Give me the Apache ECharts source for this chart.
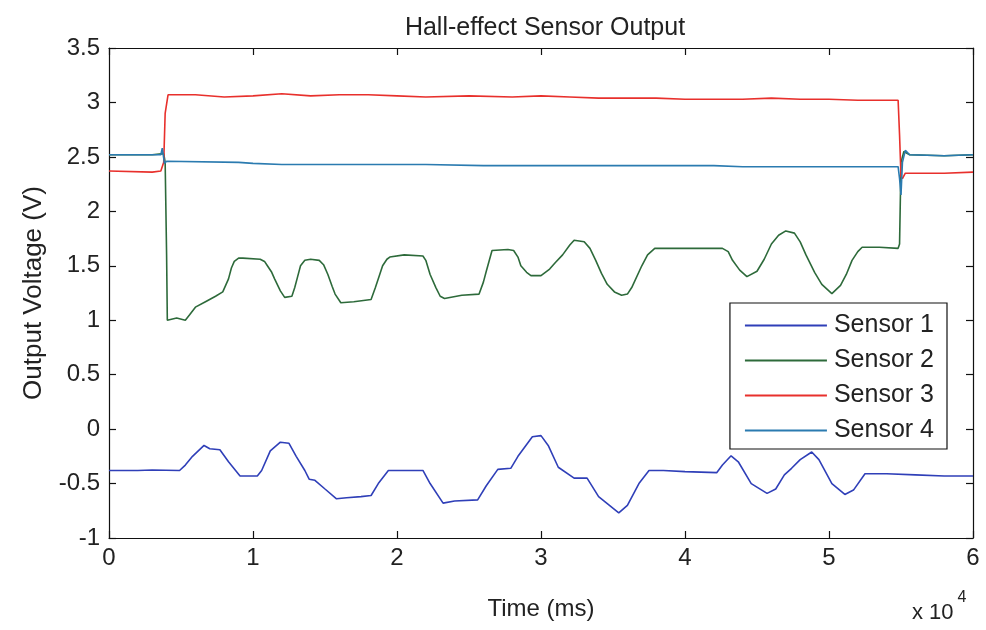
<!DOCTYPE html>
<html>
<head>
<meta charset="utf-8">
<script src="https://cdn.jsdelivr.net/npm/echarts@6/dist/echarts.min.js"></script>
<style>html,body{margin:0;padding:0;background:#fff;}#chart{width:986px;height:630px;}</style>
</head>
<body>
<div id="chart"></div>
<script>
// Time in ms, voltage in V
var s1Time = [0,2000,3000,4900,5300,5800,6600,7000,7700,8300,9100,10300,10600,11200,11900,12500,13000,13600,13900,14300,15000,15800,16500,17500,18200,18700,19400,20500,21800,22300,23200,24000,25600,26200,27000,27900,28400,29400,30000,30500,31200,32300,33200,34000,35400,36000,36800,37500,38500,40000,42200,42600,43200,43700,44600,45700,46300,46900,47400,48000,48800,49300,50200,51100,51700,52500,54000,56000,58000,60000];
var s1Volt = [-0.38,-0.38,-0.375,-0.38,-0.33,-0.25,-0.15,-0.18,-0.19,-0.3,-0.43,-0.43,-0.38,-0.2,-0.12,-0.13,-0.25,-0.38,-0.46,-0.47,-0.55,-0.64,-0.63,-0.62,-0.61,-0.5,-0.38,-0.38,-0.38,-0.5,-0.68,-0.66,-0.65,-0.52,-0.37,-0.36,-0.25,-0.07,-0.06,-0.15,-0.35,-0.45,-0.45,-0.62,-0.77,-0.7,-0.5,-0.38,-0.38,-0.39,-0.40,-0.33,-0.245,-0.3,-0.5,-0.59,-0.55,-0.42,-0.36,-0.28,-0.21,-0.28,-0.5,-0.60,-0.56,-0.41,-0.41,-0.42,-0.43,-0.43];

var s2Time = [0,3000,3800,3900,4000,4050,4700,5300,5600,6000,6700,7400,7900,8300,8500,8700,9000,9300,10500,10800,11000,11300,11500,11900,12200,12700,12900,13100,13300,13600,14000,14600,14900,15200,15500,15700,16100,17000,18200,18500,18800,19000,19300,19500,20500,21800,22000,22300,22700,23000,23300,24500,25700,26000,26200,26600,27700,28100,28400,28600,29000,29300,30000,30600,31000,31500,32000,32300,33000,33400,33800,34200,34600,35100,35600,36000,36300,37000,37400,37900,40000,42600,43000,43300,43800,44300,45000,45500,46000,46500,47000,47600,48000,48400,49000,49500,50200,50800,51200,51600,52000,52300,53500,54800,54900,55000,55200,55600,58000,60000];
var s2Volt = [2.52,2.52,2.53,2.45,1.6,1.0,1.02,1.0,1.05,1.12,1.17,1.22,1.26,1.38,1.48,1.54,1.57,1.57,1.56,1.54,1.5,1.44,1.38,1.27,1.21,1.22,1.3,1.4,1.5,1.55,1.56,1.55,1.51,1.42,1.31,1.24,1.16,1.17,1.19,1.3,1.42,1.5,1.56,1.58,1.60,1.59,1.55,1.42,1.3,1.22,1.20,1.23,1.24,1.35,1.45,1.64,1.65,1.64,1.58,1.5,1.44,1.41,1.41,1.47,1.53,1.6,1.69,1.735,1.72,1.66,1.55,1.43,1.33,1.26,1.23,1.24,1.3,1.5,1.6,1.66,1.66,1.66,1.63,1.55,1.46,1.40,1.45,1.56,1.7,1.78,1.82,1.8,1.72,1.6,1.44,1.33,1.245,1.32,1.42,1.55,1.63,1.67,1.67,1.66,1.7,2.45,2.55,2.52,2.51,2.52];

var s3Time = [0,3000,3600,3800,3900,4100,6000,8000,10000,12000,14000,16000,18000,20000,22000,25000,28000,30000,32000,34000,36000,38000,40000,42000,44000,46000,48000,50000,52000,54800,54900,55000,55100,55300,58000,60000];
var s3Volt = [2.37,2.36,2.37,2.45,2.9,3.07,3.07,3.05,3.06,3.08,3.06,3.07,3.07,3.06,3.05,3.06,3.05,3.06,3.05,3.04,3.04,3.04,3.03,3.03,3.03,3.04,3.03,3.03,3.02,3.02,2.7,2.32,2.3,2.35,2.35,2.36];

var s4Time = [0,3600,3700,3850,4000,9000,10000,12000,14000,16000,18000,20000,22000,26000,30000,34000,38000,40000,42000,44000,46000,48000,50000,52000,54800,54900,55000,55100,55300,55600,58000,60000];
var s4Volt = [2.52,2.52,2.58,2.44,2.46,2.45,2.44,2.43,2.43,2.43,2.43,2.43,2.43,2.42,2.42,2.42,2.42,2.42,2.42,2.41,2.41,2.41,2.41,2.41,2.41,2.3,2.15,2.45,2.56,2.52,2.51,2.52];

var seriesNames = ['Sensor 1','Sensor 2','Sensor 3','Sensor 4'];
var seriesColors = ['#2f3fb8','#2d6a3a','#e8302c','#2b7bb0'];
var xTickLabels = ['0','1','2','3','4','5','6'];

function pairs(t, v){ return t.map(function(x,i){ return [x, v[i]]; }); }
var allData = [pairs(s1Time,s1Volt), pairs(s2Time,s2Volt), pairs(s3Time,s3Volt), pairs(s4Time,s4Volt)];

var FONT = 'Liberation Sans, Arial, Helvetica, sans-serif';
var chart = echarts.init(document.getElementById('chart'));

function axisCommon(){
  return {
    axisLine: {show: true, onZero: false, lineStyle: {color: '#111', width: 1.2}},
    axisTick: {show: true, inside: true, length: 7, lineStyle: {color: '#111', width: 1.2}},
    splitLine: {show: false}
  };
}

chart.setOption({
  backgroundColor: '#fff',
  animation: false,
  title: {
    text: 'Hall-effect Sensor Output', left: 540, top: 11, textAlign: 'center',
    textStyle: {fontFamily: FONT, fontSize: 25, fontWeight: 'normal', color: '#222'}
  },
  legend: {
    data: seriesNames, orient: 'vertical', right: 39, top: 303,
    icon: 'rect', itemWidth: 82, itemHeight: 2, itemGap: 10,
    padding: [10, 13, 6, 15],
    backgroundColor: '#fff', borderColor: '#111', borderWidth: 1.2, borderRadius: 0,
    textStyle: {fontFamily: FONT, fontSize: 25, color: '#222', padding: [0,0,0,2]}
  },
  grid: {left: 109, right: 13, top: 48, bottom: 92, containLabel: false},
  xAxis: [
    Object.assign(axisCommon(), {
      type: 'value', min: 0, max: 60000, interval: 10000, position: 'bottom',
      name: 'Time (ms)', nameLocation: 'middle', nameGap: 59,
      nameTextStyle: {fontFamily: FONT, fontSize: 24, color: '#222'},
      axisLabel: {fontFamily: FONT, fontSize: 24, color: '#222', margin: 8,
        formatter: function(v){ return xTickLabels[Math.round(v/10000)]; }}
    }),
    Object.assign(axisCommon(), {
      type: 'value', min: 0, max: 60000, interval: 10000, position: 'top',
      axisLabel: {show: false}
    })
  ],
  yAxis: [
    Object.assign(axisCommon(), {
      type: 'value', min: -1, max: 3.5, interval: 0.5, position: 'left',
      name: 'Output Voltage (V)', nameLocation: 'middle', nameGap: 62,
      nameTextStyle: {fontFamily: FONT, fontSize: 26, color: '#222'},
      axisLabel: {fontFamily: FONT, fontSize: 24, color: '#222', margin: 9}
    }),
    Object.assign(axisCommon(), {
      type: 'value', min: -1, max: 3.5, interval: 0.5, position: 'right',
      axisLabel: {show: false}
    })
  ],
  graphic: [{
    type: 'text', left: 912, top: 590,
    style: {
      text: '{a|x 10}{b|4}',
      rich: {
        a: {fontFamily: FONT, fontSize: 22, fill: '#222', verticalAlign: 'bottom', padding: [12,0,0,0]},
        b: {fontFamily: FONT, fontSize: 16, fill: '#222', verticalAlign: 'top', padding: [0,0,14,4]}
      }
    }
  }],
  series: seriesNames.map(function(n, i){
    return {
      name: n, type: 'line', data: allData[i], showSymbol: false, symbol: 'none',
      xAxisIndex: 0, yAxisIndex: 0,
      lineStyle: {color: seriesColors[i], width: 1.6}, itemStyle: {color: seriesColors[i]},
      z: i === 3 ? 3 : 2
    };
  })
});
</script>
</body>
</html>
